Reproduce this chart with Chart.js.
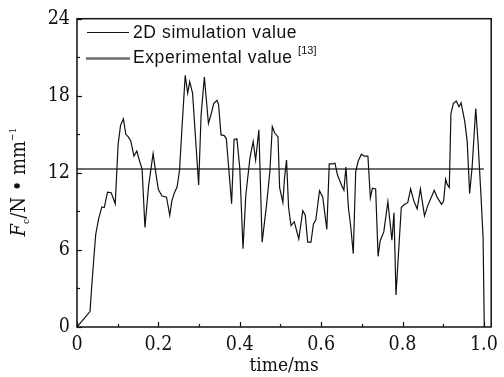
<!DOCTYPE html>
<html>
<head>
<meta charset="utf-8">
<script src="https://cdn.jsdelivr.net/npm/chart.js@4.4.1/dist/chart.umd.min.js"></script>
<style>
  html, body { margin: 0; padding: 0; background: #ffffff; }
  #wrap { width: 504px; height: 377px; }
</style>
</head>
<body>
<div id="wrap"><canvas id="c" width="504" height="377"></canvas></div>
<script>
// ---- data ----
const timeMs = [0, 0.032, 0.036, 0.041, 0.046, 0.053, 0.061, 0.067, 0.075, 0.084, 0.094, 0.101, 0.107, 0.114, 0.12, 0.126, 0.132, 0.14, 0.147, 0.154, 0.16, 0.167, 0.176, 0.187, 0.195, 0.2, 0.209, 0.22, 0.228, 0.233, 0.24, 0.246, 0.252, 0.258, 0.266, 0.272, 0.277, 0.284, 0.299, 0.305, 0.313, 0.319, 0.323, 0.329, 0.336, 0.344, 0.348, 0.354, 0.362, 0.367, 0.38, 0.386, 0.393, 0.4, 0.408, 0.415, 0.425, 0.433, 0.439, 0.447, 0.455, 0.466, 0.474, 0.48, 0.486, 0.494, 0.498, 0.506, 0.51, 0.515, 0.52, 0.526, 0.534, 0.545, 0.555, 0.561, 0.567, 0.575, 0.581, 0.587, 0.596, 0.604, 0.614, 0.62, 0.628, 0.634, 0.64, 0.65, 0.656, 0.661, 0.667, 0.673, 0.679, 0.685, 0.691, 0.699, 0.706, 0.715, 0.721, 0.726, 0.734, 0.74, 0.745, 0.754, 0.764, 0.774, 0.779, 0.784, 0.797, 0.803, 0.813, 0.82, 0.828, 0.836, 0.844, 0.854, 0.862, 0.87, 0.878, 0.886, 0.896, 0.901, 0.906, 0.91, 0.915, 0.919, 0.925, 0.932, 0.939, 0.944, 0.953, 0.959, 0.965, 0.971, 0.98, 0.986, 0.993, 0.998, 1.001];
const simForce = [0, 1.2, 3.1, 5.2, 7.2, 8.4, 9.35, 9.3, 10.5, 10.45, 9.6, 14.2, 15.7, 16.2, 15.0, 14.8, 14.5, 13.3, 13.7, 12.9, 12.3, 7.75, 11.0, 13.5, 11.7, 10.7, 10.2, 10.1, 8.7, 9.8, 10.5, 10.9, 12.2, 15.5, 19.6, 18.2, 19.1, 18.2, 11.05, 16.5, 19.45, 17.3, 15.85, 16.5, 17.4, 17.65, 17.3, 14.95, 14.9, 14.65, 9.6, 14.6, 14.65, 12.4, 6.1, 10.3, 13.15, 14.45, 13.0, 15.35, 6.6, 9.55, 12.1, 15.6, 15.1, 14.8, 10.85, 9.7, 11.6, 13.0, 9.3, 7.9, 8.2, 6.85, 9.05, 8.7, 6.6, 6.6, 8.0, 8.35, 10.6, 10.1, 7.6, 12.7, 12.7, 12.75, 11.85, 11.05, 10.65, 12.45, 9.3, 7.75, 5.7, 12.1, 12.9, 13.45, 13.3, 13.3, 10.05, 10.8, 10.75, 5.5, 6.7, 7.4, 9.75, 6.75, 8.9, 2.5, 9.3, 9.5, 9.7, 10.75, 9.8, 9.2, 10.75, 8.65, 9.45, 10.05, 10.65, 10.05, 9.55, 9.8, 11.5, 11.1, 10.85, 16.6, 17.4, 17.6, 17.15, 17.45, 16.0, 14.45, 10.4, 12.4, 17.0, 14.2, 10.15, 7.0, 0];
const expTime = [0, 1.0];
const expForce = [12.3, 12.3];
const xTickValues = [0, 0.1, 0.2, 0.3, 0.4, 0.5, 0.6, 0.7, 0.8, 0.9, 1.0];
const xTickLabels = ["0", "", "0.2", "", "0.4", "", "0.6", "", "0.8", "", "1.0"];
const yTickValues = [0, 3, 6, 9, 12, 15, 18, 21, 24];
const yTickLabels = ["0", "", "6", "", "12", "", "18", "", "24"];
const seriesNames = ["2D simulation value", "Experimental value"];
const seriesRef = "[13]";

const SERIF = '"DejaVu Serif Condensed", "DejaVu Serif", serif';
const SANS = '"Liberation Sans", Arial, sans-serif';
const SIM_COLOR = '#111111';
const EXP_COLOR = '#6c6c6c';

const framePlugin = {
  id: 'frame',
  afterDraw(chart) {
    const ctx = chart.ctx;
    const a = chart.chartArea;
    const xs = chart.scales.x, ys = chart.scales.y;
    ctx.save();
    ctx.strokeStyle = '#111';
    ctx.lineWidth = 1.5;
    ctx.strokeRect(a.left, a.top, a.right - a.left, a.bottom - a.top);
    ctx.lineWidth = 1.2;
    // inward ticks
    xTickValues.forEach((v, i) => {
      const px = Math.round(xs.getPixelForValue(v)) + 0.5;
      const len = xTickLabels[i] ? 5 : 3;
      ctx.beginPath(); ctx.moveTo(px, a.bottom); ctx.lineTo(px, a.bottom - len); ctx.stroke();
    });
    yTickValues.forEach((v, i) => {
      const py = Math.round(ys.getPixelForValue(v)) + 0.5;
      const len = yTickLabels[i] ? 5 : 3;
      ctx.beginPath(); ctx.moveTo(a.left, py); ctx.lineTo(a.left + len, py); ctx.stroke();
    });

    // y-axis title: F_c/N · mm^-1
    ctx.translate(19, 182);
    ctx.rotate(-Math.PI / 2);
    ctx.fillStyle = '#111';
    ctx.textBaseline = 'alphabetic';
    const parts = [
      { t: 'F', f: 'italic 20px ' + SERIF, dy: 0 },
      { t: 'c', f: '10px ' + SERIF, dy: 4 },
      { t: '/N \u2022 mm', f: '20px ' + SERIF, dy: 0 },
      { t: '\u22121', f: '10px ' + SERIF, dy: -9 }
    ];
    let total = 0;
    parts.forEach(p => { ctx.font = p.f; p.w = ctx.measureText(p.t).width; total += p.w; });
    let x0 = -total / 2;
    parts.forEach(p => { ctx.font = p.f; ctx.fillText(p.t, x0, 6 + p.dy); x0 += p.w; });
    ctx.restore();

    // legend
    ctx.save();
    ctx.textBaseline = 'middle';
    ctx.fillStyle = '#111';
    ctx.font = '17.5px ' + SANS;
    try { ctx.letterSpacing = '0.6px'; } catch (e) {}
    ctx.strokeStyle = SIM_COLOR; ctx.lineWidth = 1.2;
    ctx.beginPath(); ctx.moveTo(87, 32.5); ctx.lineTo(129, 32.5); ctx.stroke();
    ctx.fillText(seriesNames[0], 133, 33);
    ctx.strokeStyle = EXP_COLOR; ctx.lineWidth = 2.4;
    ctx.beginPath(); ctx.moveTo(86, 58.5); ctx.lineTo(130, 58.5); ctx.stroke();
    ctx.fillText(seriesNames[1], 133, 58);
    const w = ctx.measureText(seriesNames[1] + ' ').width;
    ctx.font = '11px ' + SANS;
    try { ctx.letterSpacing = '0px'; } catch (e) {}
    ctx.fillText(seriesRef, 133 + w, 51);
    ctx.restore();
  }
};

new Chart(document.getElementById('c'), {
  type: 'line',
  data: {
    datasets: [
      {
        label: seriesNames[1],
        data: expTime.map((t, i) => ({ x: t, y: expForce[i] })),
        borderColor: EXP_COLOR,
        borderWidth: 2.2,
        pointRadius: 0,
        tension: 0,
        order: 2
      },
      {
        label: seriesNames[0],
        data: timeMs.map((t, i) => ({ x: t, y: simForce[i] })),
        borderColor: SIM_COLOR,
        borderWidth: 1.2,
        pointRadius: 0,
        tension: 0,
        order: 1
      }
    ]
  },
  options: {
    responsive: false,
    animation: false,
    events: [],
    layout: { padding: { top: 17, right: 10, left: 0, bottom: 0 } },
    plugins: { legend: { display: false }, tooltip: { enabled: false } },
    scales: {
      x: {
        type: 'linear',
        min: 0,
        max: 1.018,
        afterBuildTicks(scale) { scale.ticks = xTickValues.map(v => ({ value: v })); },
        afterFit(scale) { scale.height = 50; },
        grid: { display: false, drawTicks: false },
        border: { display: false },
        ticks: {
          autoSkip: false,
          maxRotation: 0,
          padding: 6,
          color: '#111',
          font: { family: SERIF, size: 19.5 },
          callback(value, index) { return xTickLabels[index]; }
        },
        title: {
          display: true,
          text: 'time/ms',
          color: '#111',
          font: { family: SERIF, size: 19 },
          padding: { top: 2, bottom: 0 }
        }
      },
      y: {
        type: 'linear',
        min: 0,
        max: 24,
        afterBuildTicks(scale) { scale.ticks = yTickValues.map(v => ({ value: v })); },
        afterFit(scale) { scale.width = 77; },
        grid: { display: false, drawTicks: false },
        border: { display: false },
        ticks: {
          autoSkip: false,
          padding: 7,
          color: '#111',
          font: { family: SERIF, size: 19.5 },
          callback(value, index) { return yTickLabels[index]; }
        }
      }
    }
  },
  plugins: [framePlugin]
});
</script>
</body>
</html>
